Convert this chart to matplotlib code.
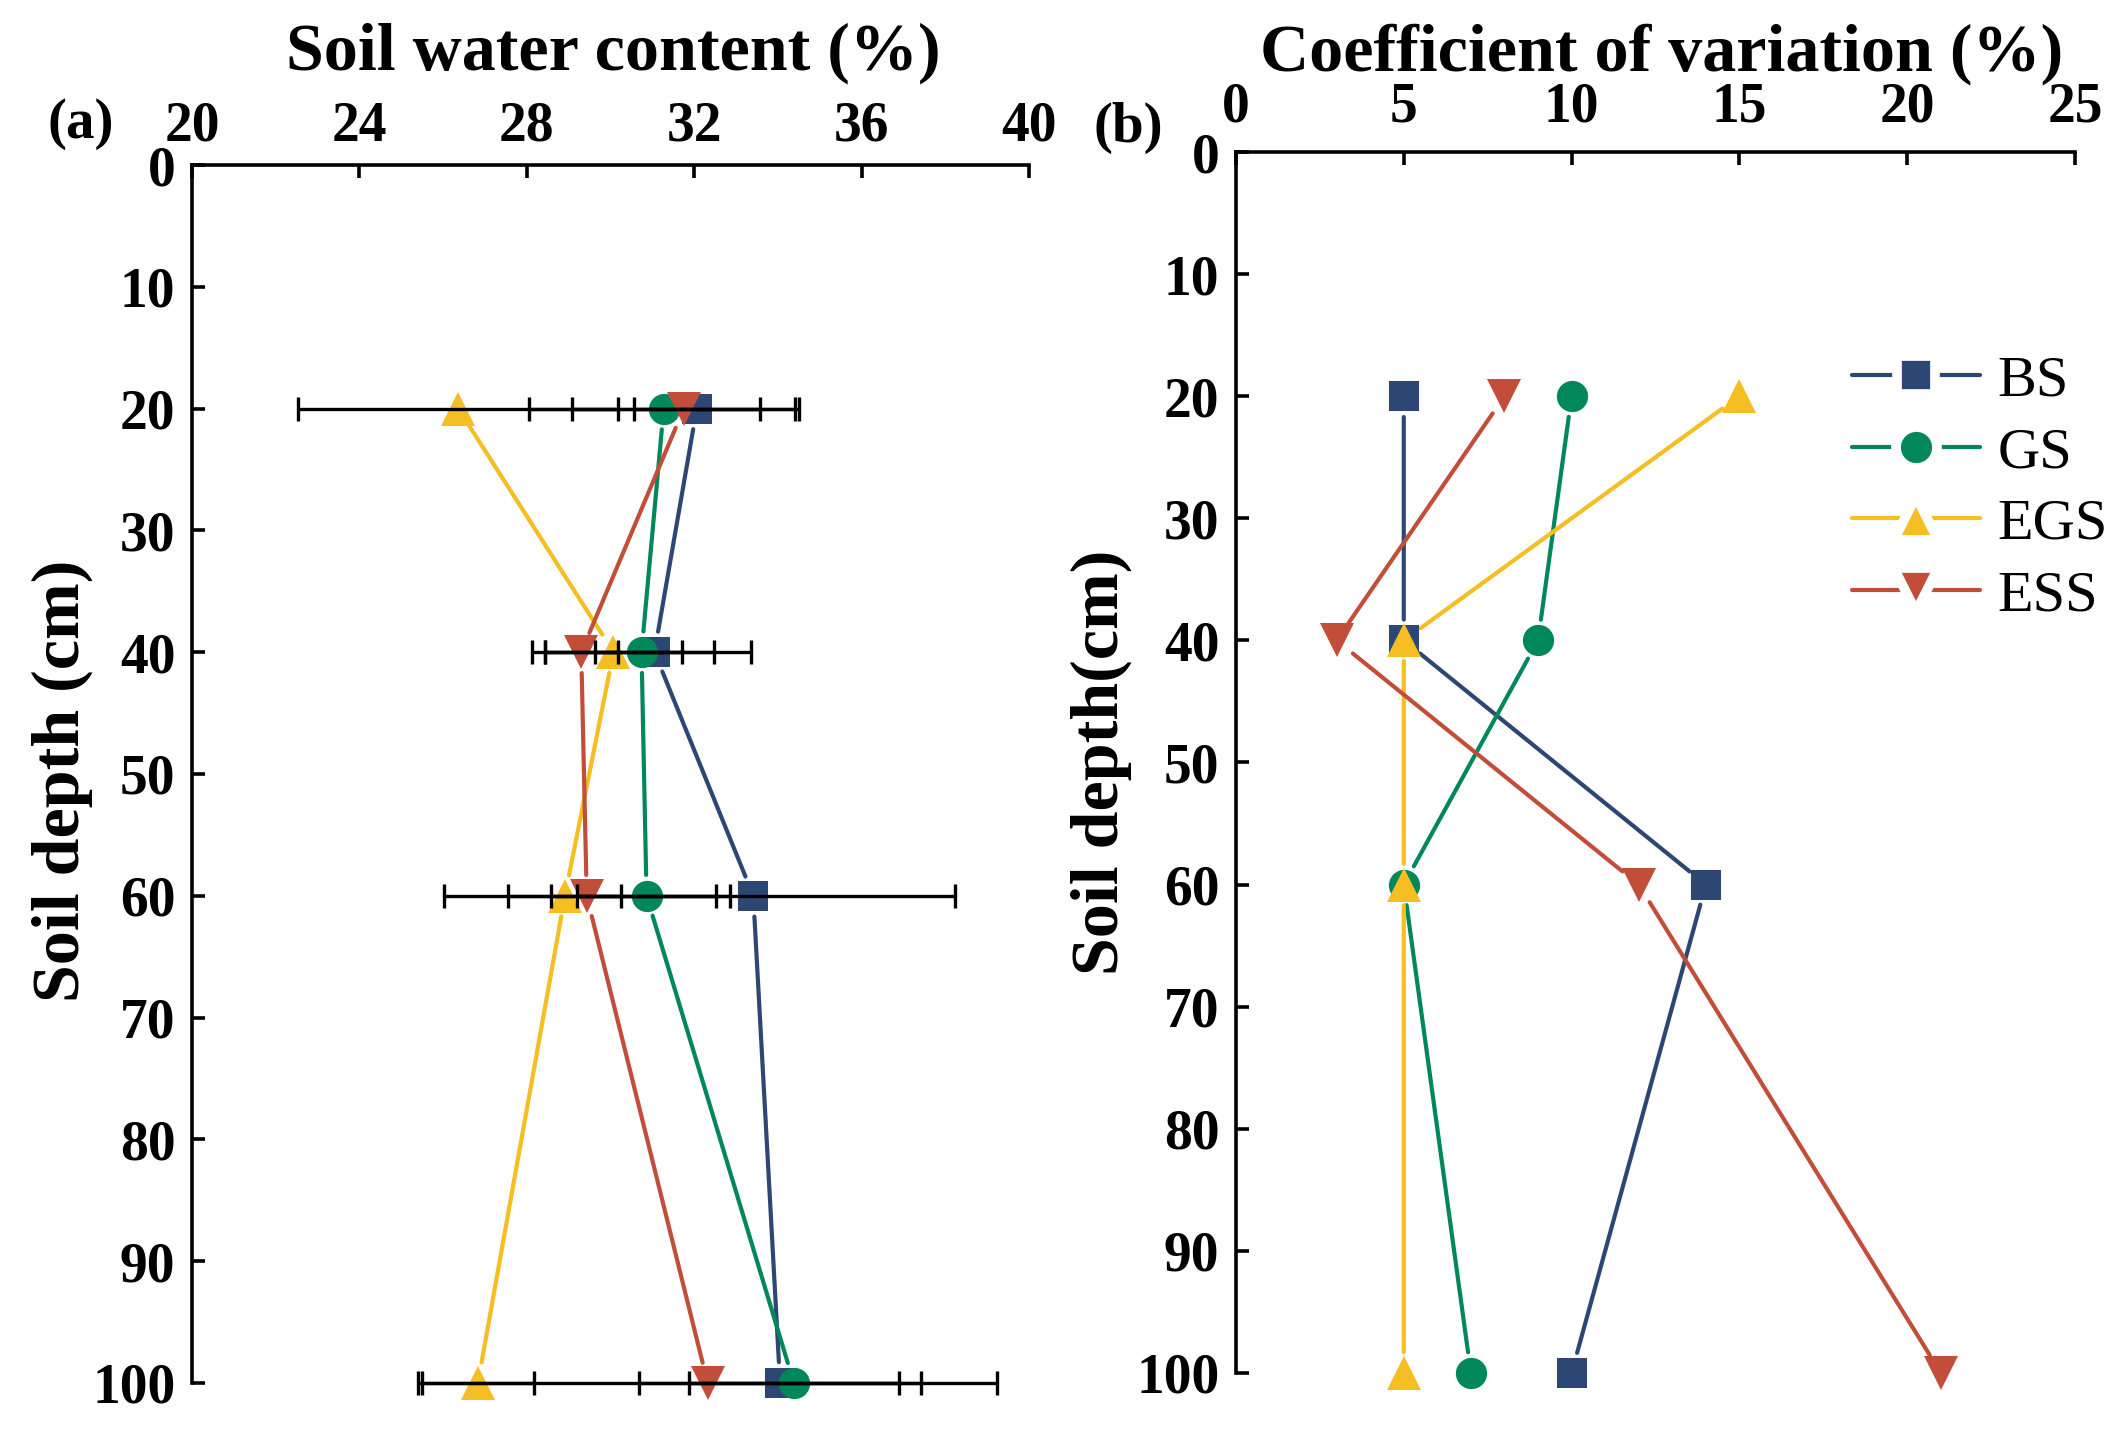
import numpy as np
import matplotlib
matplotlib.use('Agg')
import matplotlib.pyplot as plt
from matplotlib.lines import Line2D

plt.rcParams['font.family'] = ['Liberation Serif', 'DejaVu Serif']

# ---------------- data ----------------
depth = [20, 40, 60, 100]
series_names = ['BS', 'GS', 'EGS', 'ESS']

# soil water content (%) and error (+/-)
bs_swc = [32.06, 31.05, 33.41, 34.05]
bs_err = [1.51, 1.43, 4.83, 3.38]
gs_swc = [31.27, 30.74, 30.86, 34.38]
gs_err = [3.23, 2.62, 1.65, 2.51]
egs_swc = [26.36, 30.07, 28.91, 26.83]
egs_err = [3.82, 1.63, 1.35, 1.34]
ess_swc = [31.75, 29.30, 29.43, 32.32]
ess_err = [2.66, 0.87, 3.42, 6.91]

# coefficient of variation (%)
bs_cv = [5, 5, 14, 10]
gs_cv = [10, 9, 5, 7]
egs_cv = [15, 5, 5, 5]
ess_cv = [8, 3, 12, 21]

depth_ticks = np.arange(0, 101, 10)
swc_ticks = np.arange(20, 41, 4)
cv_ticks = np.arange(0, 26, 5)

# ---------------- style ----------------
COLORS = ['#2D4775', '#00875A', '#F5BE22', '#C24E3A']
MARKERS = ['s', 'o', '^', 'v']
MSIZES = [21, 22.5, 25, 25]
LW = 3.0
GAP = 15      # points of empty line near each marker
TICKFS = 40
LABELFS = 49

swc_vals = [bs_swc, gs_swc, egs_swc, ess_swc]
swc_errs = [bs_err, gs_err, egs_err, ess_err]
cv_vals = [bs_cv, gs_cv, egs_cv, ess_cv]

fig = plt.figure(figsize=(21.2, 14.3), dpi=100)
ax1 = fig.add_axes([0.0906, 0.0329, 0.3948, 0.8517])
ax2 = fig.add_axes([0.5830, 0.0399, 0.3958, 0.8538])


def draw_profile(ax, xvals_list, errs_list=None):
    for i in range(len(xvals_list)):
        xv = xvals_list[i]
        # connecting lines, shortened near the markers
        for j in range(len(depth) - 1):
            ax.annotate('', xy=(xv[j + 1], depth[j + 1]), xytext=(xv[j], depth[j]),
                        arrowprops=dict(arrowstyle='-', color=COLORS[i], lw=LW,
                                        shrinkA=GAP, shrinkB=GAP, capstyle='round'),
                        annotation_clip=False, zorder=2)
        ax.plot(xv, depth, linestyle='none', marker=MARKERS[i], ms=MSIZES[i],
                color=COLORS[i], mec=COLORS[i], mew=0, zorder=3, clip_on=False)
    if errs_list is not None:
        for i in range(len(xvals_list)):
            ax.errorbar(xvals_list[i], depth, xerr=errs_list[i], fmt='none',
                        ecolor='black', elinewidth=2.4, capsize=8.5, capthick=2.4,
                        zorder=4, clip_on=False)


def style_axes(ax, xlim, xticks):
    ax.set_xlim(xlim)
    ax.set_ylim(100, 0)
    ax.set_xticks(xticks)
    ax.set_yticks(depth_ticks)
    ax.xaxis.tick_top()
    ax.spines['right'].set_visible(False)
    ax.spines['bottom'].set_visible(False)
    for s in ['left', 'top']:
        ax.spines[s].set_linewidth(2.6)
    ax.tick_params(axis='both', direction='in', length=9.5, width=2.6,
                   labelsize=TICKFS)
    ax.tick_params(axis='y', pad=12)
    for lab in ax.get_xticklabels() + ax.get_yticklabels():
        lab.set_fontweight('bold')


draw_profile(ax1, swc_vals, swc_errs)
style_axes(ax1, (20, 40), swc_ticks)
ax1.tick_params(axis='x', pad=9)
ax1.xaxis.set_label_position('top')
ax1.set_xlabel('Soil water content (%)', fontsize=LABELFS, fontweight='bold',
               va='center', ha='center')
ax1.xaxis.set_label_coords(0.503, 1.092)
ax1.set_ylabel('Soil depth (cm)', fontsize=LABELFS, fontweight='bold',
               va='center', ha='center')
ax1.yaxis.set_label_coords(-0.155, 0.494)

draw_profile(ax2, cv_vals)
style_axes(ax2, (0, 25), cv_ticks)
ax2.tick_params(axis='x', pad=13)
ax2.xaxis.set_label_position('top')
ax2.set_xlabel('Coefficient of variation (%)', fontsize=LABELFS, fontweight='bold',
               va='center', ha='center')
ax2.xaxis.set_label_coords(0.507, 1.080)
ax2.set_ylabel('Soil depth(cm)', fontsize=LABELFS, fontweight='bold',
               va='center', ha='center')
ax2.yaxis.set_label_coords(-0.16, 0.5)

# panel letters
fig.text(81 / 2120, 1 - 124 / 1430, '(a)', fontsize=41, fontweight='bold',
         ha='center', va='center')
fig.text(1128 / 2120, 1 - 128 / 1430, '(b)', fontsize=41, fontweight='bold',
         ha='center', va='center')

# legend: white marker edge gives the gap between line and marker
handles = [Line2D([], [], color=COLORS[i], lw=LW, marker=MARKERS[i],
                  ms=MSIZES[i] + 7, markerfacecolor=COLORS[i],
                  markeredgecolor='white', mew=7, solid_capstyle='round')
           for i in range(len(series_names))]
ax2.legend(handles, series_names, loc='upper left', frameon=False,
           bbox_to_anchor=(1852 / 2120, 1 - 355 / 1430),
           bbox_transform=fig.transFigure, prop={'size': 42},
           borderpad=0, borderaxespad=0, handlelength=2.2,
           handletextpad=0.3, labelspacing=0.32)

fig.savefig('out.png', dpi=100)
